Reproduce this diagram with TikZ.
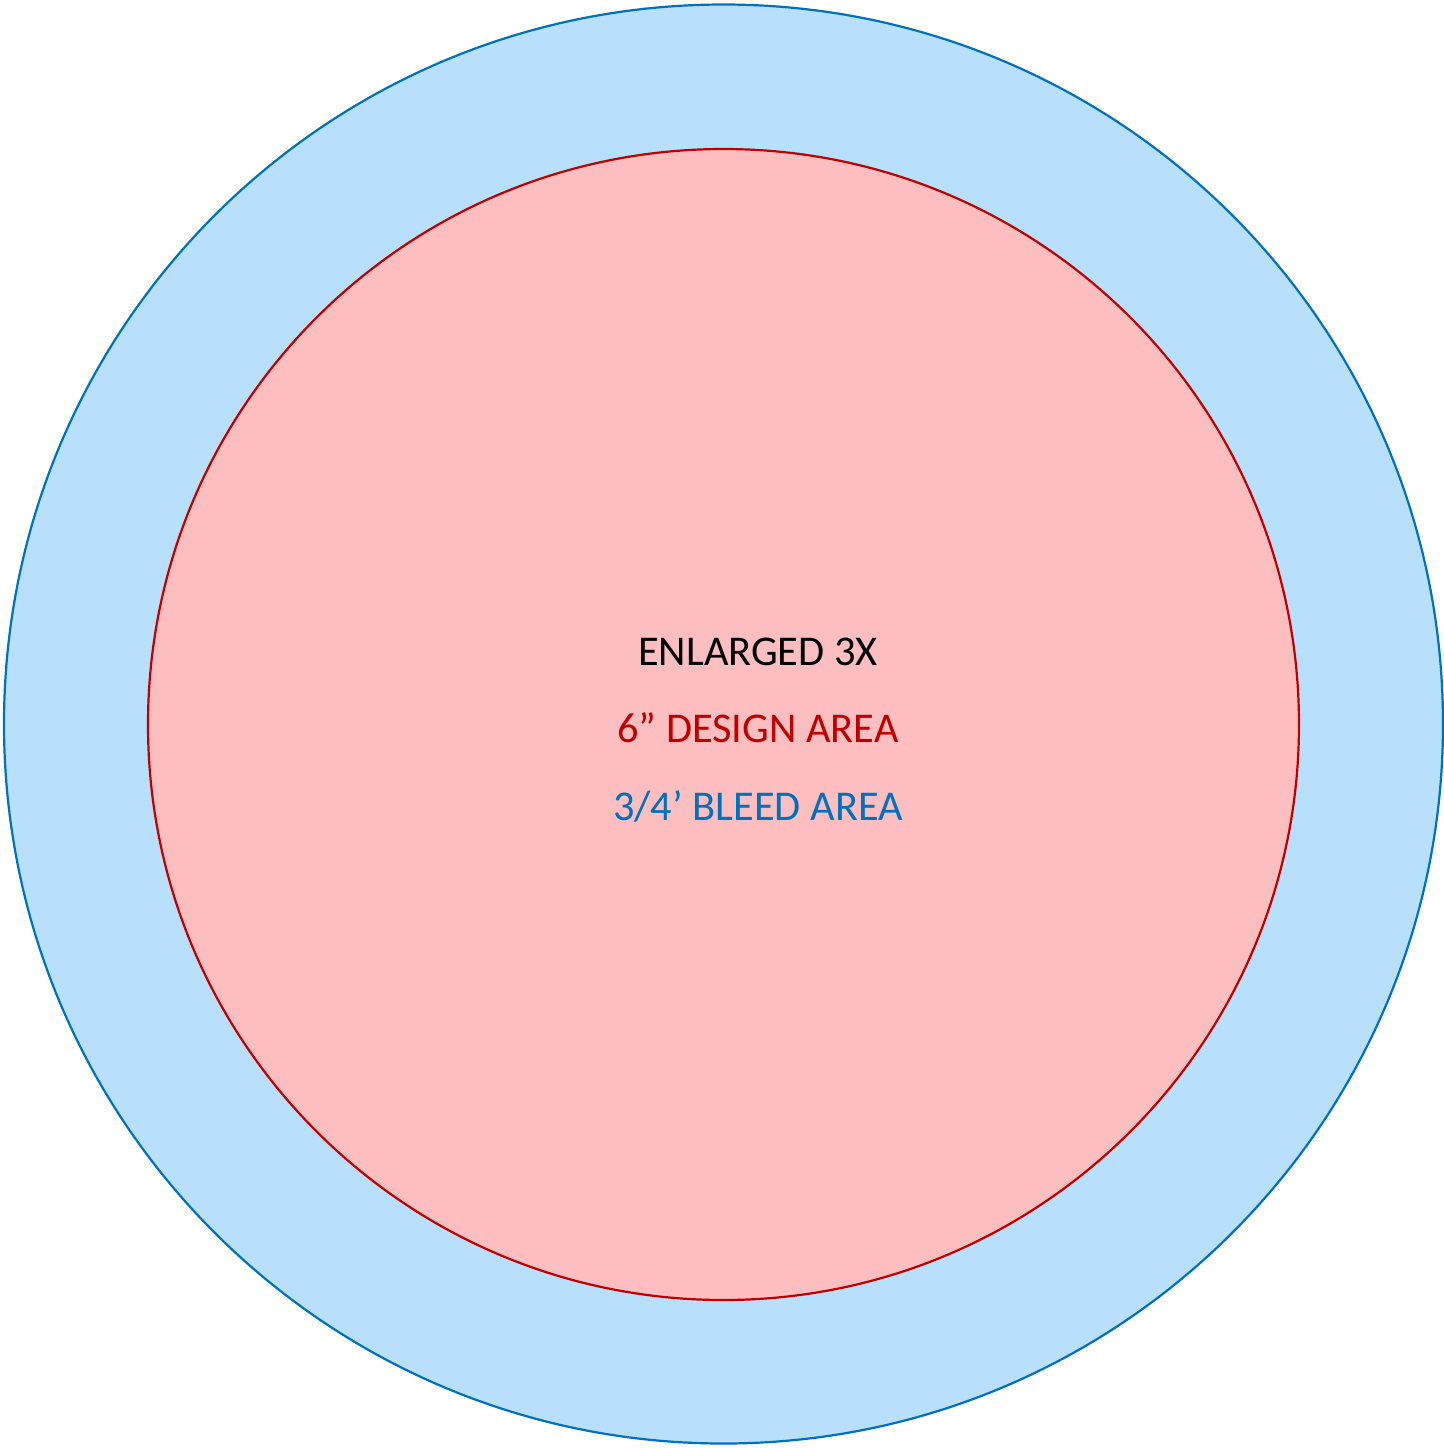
\documentclass[tikz,border=0pt]{standalone}
\usepackage{fontspec}
\setmainfont{Carlito}
\definecolor{bleedfill}{HTML}{B8E0FC}
\definecolor{bleedline}{HTML}{0070C0}
\definecolor{designfill}{HTML}{FDBEBF}
\definecolor{designline}{HTML}{C00000}
\begin{document}
\begin{tikzpicture}[x=0.5pt,y=-0.5pt,
  lbl/.style={anchor=base,inner sep=0pt,font=\fontsize{21.2pt}{25pt}\selectfont}]
\useasboundingbox (0,0) rectangle (1444,1448);
\fill[white] (0,0) rectangle (1444,1448);
\draw[bleedline,fill=bleedfill,line width=1.1pt] (723.5,724) circle[radius=719.5];
\draw[designline,fill=designfill,line width=1.1pt] (723.5,724.5) circle[radius=575.5];
\node[lbl,text=black] (t1) at (758,665) {ENLARGED 3X};
\node[lbl,text=designline] (t2) at (758,742) {6” DESIGN AREA};
\node[lbl,text=bleedline] (t3) at (758,820) {3/4’ BLEED AREA};
\end{tikzpicture}
\end{document}
